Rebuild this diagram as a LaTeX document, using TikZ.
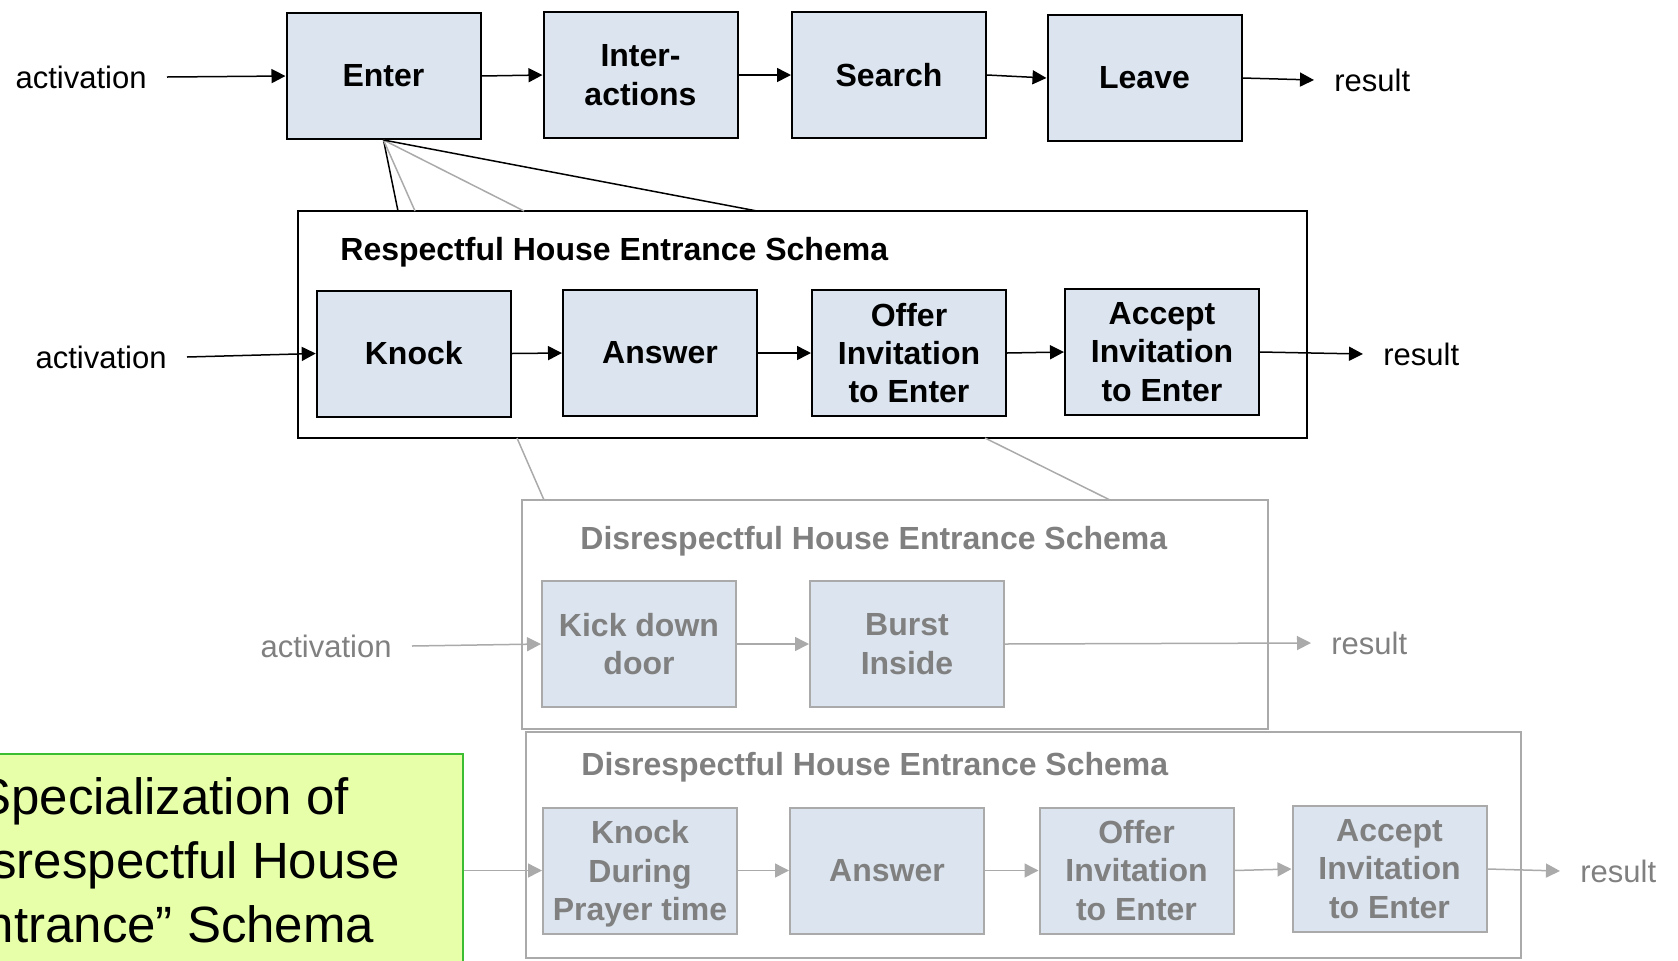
\documentclass[tikz,border=0pt]{standalone}
\usepackage{fontspec}
\setmainfont{Liberation Sans}
\usetikzlibrary{arrows.meta}

\definecolor{boxfill}{RGB}{220,229,239}
\definecolor{fadeline}{RGB}{170,170,170}
\definecolor{fadetext}{RGB}{128,128,128}
\definecolor{notefill}{RGB}{232,255,170}
\definecolor{noteline}{RGB}{60,190,50}

\begin{document}
\begin{tikzpicture}[x=0.5pt,y=-0.5pt,
  stepbox/.style={draw=black, fill=boxfill, line width=1pt, minimum width=97pt,
    minimum height=63pt, inner sep=0pt, align=center,
    font=\fontsize{16pt}{19.2pt}\selectfont\bfseries},
  fadebox/.style={stepbox, draw=fadeline, text=fadetext},
  frame/.style={draw=black, line width=1pt, inner sep=0pt},
  fadeframe/.style={frame, draw=fadeline},
  title/.style={anchor=base west, inner sep=0pt,
    font=\fontsize{16pt}{19.2pt}\selectfont\bfseries},
  io/.style={inner xsep=10pt, inner ysep=0pt, font=\fontsize{15.5pt}{18pt}\selectfont},
  flow/.style={line width=0.75pt, -{Triangle[length=7pt,width=7pt]}},
  fadeflow/.style={flow, draw=fadeline, fill=fadeline},
  link/.style={line width=0.75pt},
  fadelink/.style={link, draw=fadeline}]

\useasboundingbox (0,0) rectangle (1678,960);
\clip (0,0) rectangle (1678,960);

% ---- top level script ----
\node[stepbox] (enter)  at (383.5,76) {Enter};
\node[stepbox] (inter)  at (640.5,75) {Inter-\\actions};
\node[stepbox] (search) at (889,75)   {Search};
\node[stepbox] (leave)  at (1144.5,78) {Leave};
\node[io, anchor=east] (act1) at (167,77) {activation};
\node[io, anchor=west] (res1) at (1314,80) {result};
\draw[flow] (act1.east) -- (enter.west);
\draw[flow] (enter.east) -- (inter.west);
\draw[flow] (inter.east) -- (search.west);
\draw[flow] (search.east) -- (leave.west);
\draw[flow] (leave.east) -- (res1.west);

% ---- respectful entrance ----
\node[frame, minimum width=504.5pt, minimum height=113.5pt] (resp) at (802,324.25) {};
\node[title] (resptitle) at (340,260) {Respectful House Entrance Schema};
\node[stepbox] (knock)  at (413.75,353.5) {Knock};
\node[stepbox] (answer) at (660,353) {Answer};
\node[stepbox] (offer)  at (909,353) {Offer\\Invitation\\to Enter};
\node[stepbox] (accept) at (1162,352) {Accept\\Invitation\\to Enter};
\node[io, anchor=east] (act2) at (187,357) {activation};
\node[io, anchor=west] (res2) at (1363,354) {result};
\draw[flow] (act2.east) -- (knock.west);
\draw[flow] (knock.east) -- (answer.west);
\draw[flow] (answer.east) -- (offer.west);
\draw[flow] (offer.east) -- (accept.west);
\draw[flow] (accept.east) -- (res2.west);

% fan from Enter down to its elaborations
\coordinate (e1) at (398,211);
\coordinate (e2) at (415,211);
\coordinate (e3) at (524,211);
\coordinate (e4) at (757,211);
\draw[link] (enter.south) -- (e1);
\draw[fadelink] (enter.south) -- (e2);
\draw[fadelink] (enter.south) -- (e3);
\draw[link] (enter.south) -- (e4);

% ---- disrespectful entrance ----
\node[fadeframe, minimum width=373pt, minimum height=114.5pt] (dis1) at (895,614.5) {};
\node[title, text=fadetext] (dis1title) at (580,549.5) {Disrespectful House Entrance Schema};
\node[fadebox] (kick)  at (639,644) {Kick down\\door};
\node[fadebox] (burst) at (907,644) {Burst\\Inside};
\node[io, anchor=east, text=fadetext] (act3) at (412,646) {activation};
\node[io, anchor=west, text=fadetext] (res3) at (1311,643) {result};
\draw[fadeflow] (act3.east) -- (kick.west);
\draw[fadeflow] (kick.east) -- (burst.west);
\draw[fadeflow] (burst.east) -- (res3.west);

\coordinate (r1) at (517,438);
\coordinate (r2) at (985,438);
\coordinate (d1) at (544,500);
\coordinate (d2) at (1110,500);
\draw[fadelink] (r1) -- (d1);
\draw[fadelink] (r2) -- (d2);

% ---- disrespectful entrance, prayer time ----
\node[fadeframe, minimum width=497.75pt, minimum height=113pt] (dis2) at (1023.25,845) {};
\node[title, text=fadetext] (dis2title) at (581,775.5) {Disrespectful House Entrance Schema};
\node[fadebox] (pknock)  at (640,870.5) {\\[-4pt]Knock\\During\\Prayer time};
\node[fadebox] (panswer) at (887,870.5) {Answer};
\node[fadebox] (poffer)  at (1136.5,870.5) {Offer\\Invitation\\to Enter};
\node[fadebox] (paccept) at (1389.5,869) {Accept\\Invitation\\to Enter};
\node[io, anchor=west, text=fadetext] (res4) at (1560,871) {result};
\draw[fadeflow] (pknock.east) -- (panswer.west);
\draw[fadeflow] (panswer.east) -- (poffer.west);
\draw[fadeflow] (poffer.east) -- (paccept.west);
\draw[fadeflow] (paccept.east) -- (res4.west);

% ---- note box ----
\node[draw=noteline, fill=notefill, line width=1pt, minimum width=284.5pt,
  minimum height=116pt, inner sep=0pt] (note) at (178,870) {};
\node[align=center, inner sep=0pt, font=\fontsize{25.5pt}{32pt}\selectfont]
  (notetext) at (163,860) {Specialization of\\“Disrespectful House\\Entrance” Schema};
\draw[fadeflow] (note.east |- pknock.west) -- (pknock.west);

\end{tikzpicture}
\end{document}
